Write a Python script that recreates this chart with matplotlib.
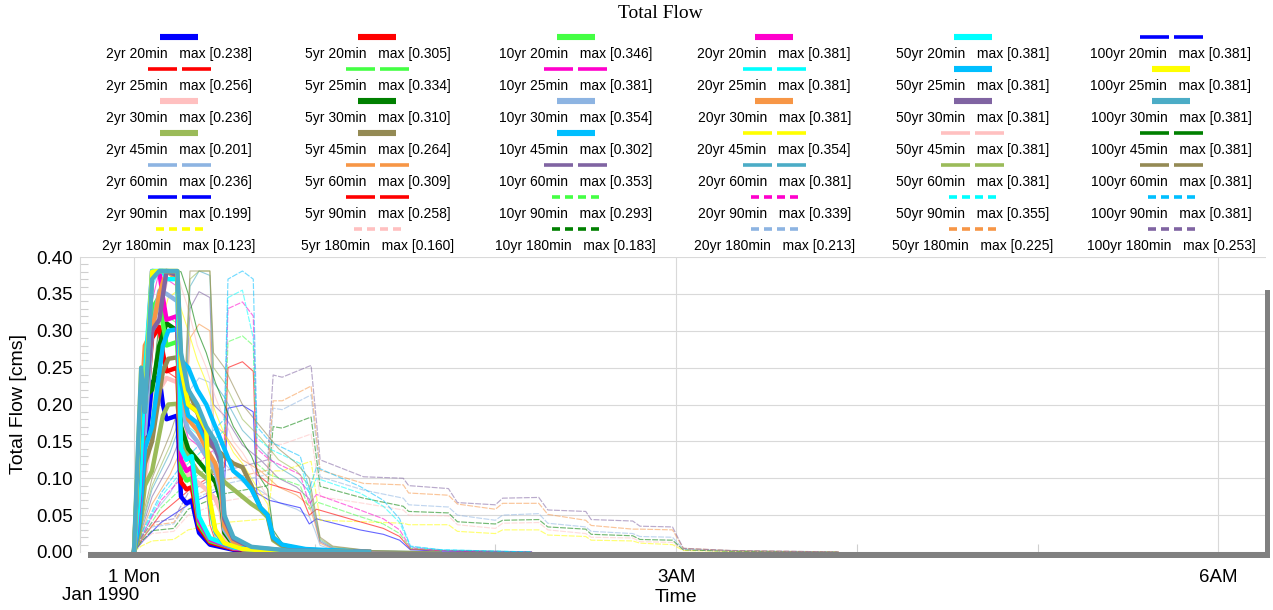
import matplotlib.pyplot as plt
from matplotlib.ticker import MultipleLocator, FixedLocator
from matplotlib.patches import Rectangle

plt.rcParams['font.family'] = ['Liberation Sans', 'DejaVu Sans']

W, H = 1273, 610

# time after 1 Jan 1990 00:00, hours (one time base per storm duration)
T20 = [0, 0.03, 0.06, 0.1, 0.14, 0.16, 0.18, 0.24, 0.26, 0.29, 0.32, 0.34, 0.36, 0.42, 0.55, 0.8, 1.2]
T25 = [0, 0.025, 0.04, 0.06, 0.1, 0.14, 0.18, 0.24, 0.26, 0.3, 0.35, 0.4, 0.42, 0.45, 0.5, 0.6, 0.8, 1.2]
T30 = [0, 0.025, 0.04, 0.06, 0.1, 0.14, 0.18, 0.24, 0.26, 0.3, 0.35, 0.4, 0.45, 0.48, 0.5, 0.55, 0.65, 0.85, 1.3]
T45 = [0, 0.03, 0.06, 0.1, 0.16, 0.19, 0.24, 0.26, 0.3, 0.35, 0.4, 0.45, 0.5, 0.55, 0.6, 0.65, 0.7, 0.74, 0.77, 0.82, 0.95, 1.3]
T60 = [0, 0.04, 0.1, 0.2, 0.28, 0.31, 0.36, 0.42, 0.44, 0.5, 0.6, 0.7, 0.8, 0.9, 0.97, 1.0, 1.03, 1.1, 1.3, 1.7]
T90 = [0, 0.05, 0.15, 0.3, 0.5, 0.52, 0.6, 0.66, 0.68, 0.75, 0.92, 0.97, 1.01, 1.25, 1.38, 1.47, 1.53, 1.7, 2.2]
T180 = [0, 0.04, 0.1, 0.22, 0.3, 0.5, 0.74, 0.77, 0.82, 0.98, 1.03, 1.27, 1.49, 1.52, 1.74, 1.79, 2.0, 2.04,
        2.24, 2.29, 2.5, 2.53, 2.76, 2.8, 2.98, 3.04, 3.3, 3.9]

# total flow [cms]
q2yr_20 = [0, 0.04, 0.13, 0.23, 0.238, 0.2, 0.18, 0.185, 0.075, 0.066, 0.07, 0.047, 0.026, 0.01, 0.003, 0.001, 0]
q5yr_20 = [0, 0.05, 0.17, 0.29, 0.305, 0.27, 0.245, 0.25, 0.095, 0.085, 0.088, 0.06, 0.033, 0.013, 0.004, 0.001, 0]
q10yr_20 = [0, 0.06, 0.19, 0.33, 0.346, 0.31, 0.28, 0.285, 0.11, 0.097, 0.1, 0.07, 0.038, 0.015, 0.005, 0.001, 0]
q20yr_20 = [0, 0.07, 0.22, 0.381, 0.38, 0.345, 0.315, 0.32, 0.125, 0.11, 0.115, 0.08, 0.043, 0.017, 0.005, 0.001, 0]
q50yr_20 = [0, 0.08, 0.24, 0.381, 0.381, 0.381, 0.37, 0.37, 0.14, 0.125, 0.13, 0.09, 0.048, 0.019, 0.006, 0.001, 0]
q100yr_20 = [0, 0.09, 0.26, 0.381, 0.381, 0.381, 0.381, 0.381, 0.15, 0.13, 0.135, 0.095, 0.05, 0.02, 0.006, 0.001, 0]

q2yr_25 = [0, 0.07, 0.12, 0.11, 0.23, 0.256, 0.245, 0.235, 0.125, 0.1, 0.095, 0.085, 0.037, 0.015, 0.006, 0.002, 0.001, 0]
q5yr_25 = [0, 0.09, 0.16, 0.15, 0.3, 0.334, 0.32, 0.31, 0.165, 0.135, 0.125, 0.11, 0.048, 0.02, 0.008, 0.003, 0.001, 0]
q10yr_25 = [0, 0.11, 0.19, 0.17, 0.34, 0.381, 0.37, 0.36, 0.19, 0.155, 0.145, 0.125, 0.055, 0.023, 0.009, 0.003, 0.001, 0]
q20yr_25 = [0, 0.12, 0.21, 0.18, 0.36, 0.381, 0.38, 0.375, 0.21, 0.17, 0.16, 0.14, 0.06, 0.025, 0.01, 0.003, 0.001, 0]
q50yr_25 = [0, 0.13, 0.23, 0.19, 0.375, 0.381, 0.381, 0.38, 0.23, 0.185, 0.175, 0.15, 0.065, 0.028, 0.011, 0.004, 0.001, 0]
q100yr_25 = [0, 0.15, 0.25, 0.2, 0.38, 0.381, 0.381, 0.381, 0.25, 0.2, 0.19, 0.165, 0.07, 0.03, 0.012, 0.004, 0.001, 0]

q2yr_30 = [0, 0.06, 0.1, 0.1, 0.17, 0.22, 0.236, 0.23, 0.13, 0.105, 0.095, 0.085, 0.072, 0.055, 0.02, 0.008, 0.003, 0.001, 0]
q5yr_30 = [0, 0.08, 0.14, 0.21, 0.22, 0.28, 0.31, 0.3, 0.17, 0.14, 0.125, 0.11, 0.095, 0.07, 0.026, 0.01, 0.004, 0.001, 0]
q10yr_30 = [0, 0.1, 0.17, 0.16, 0.3, 0.354, 0.35, 0.34, 0.2, 0.165, 0.15, 0.13, 0.11, 0.08, 0.03, 0.012, 0.004, 0.001, 0]
q20yr_30 = [0, 0.12, 0.2, 0.28, 0.3, 0.35, 0.381, 0.37, 0.22, 0.18, 0.165, 0.14, 0.12, 0.09, 0.035, 0.014, 0.005, 0.001, 0]
q50yr_30 = [0, 0.14, 0.23, 0.2, 0.3, 0.315, 0.381, 0.375, 0.25, 0.2, 0.19, 0.16, 0.14, 0.12, 0.045, 0.018, 0.006, 0.002, 0]
q100yr_30 = [0, 0.16, 0.25, 0.19, 0.37, 0.381, 0.381, 0.381, 0.27, 0.22, 0.2, 0.17, 0.15, 0.13, 0.05, 0.02, 0.007, 0.002, 0]

q2yr_45 = [0, 0.025, 0.09, 0.11, 0.185, 0.2, 0.201, 0.16, 0.13, 0.11, 0.1, 0.115, 0.095, 0.085, 0.075, 0.065, 0.057,
           0.047, 0.016, 0.008, 0.003, 0]
q5yr_45 = [0, 0.035, 0.12, 0.15, 0.245, 0.262, 0.264, 0.23, 0.22, 0.19, 0.15, 0.14, 0.13, 0.12, 0.115, 0.09, 0.06,
           0.05, 0.018, 0.009, 0.003, 0]
q10yr_45 = [0, 0.04, 0.14, 0.17, 0.28, 0.3, 0.302, 0.26, 0.25, 0.22, 0.2, 0.17, 0.14, 0.11, 0.1, 0.085, 0.06,
            0.05, 0.02, 0.01, 0.004, 0]
q20yr_45 = [0, 0.04, 0.15, 0.19, 0.32, 0.345, 0.354, 0.33, 0.3, 0.26, 0.23, 0.19, 0.16, 0.135, 0.12, 0.1, 0.08,
            0.065, 0.024, 0.01, 0.003, 0]
q50yr_45 = [0, 0.045, 0.16, 0.2, 0.34, 0.37, 0.381, 0.36, 0.33, 0.28, 0.25, 0.21, 0.18, 0.15, 0.135, 0.115, 0.09,
            0.075, 0.027, 0.011, 0.004, 0]
q100yr_45 = [0, 0.05, 0.17, 0.22, 0.36, 0.381, 0.381, 0.38, 0.35, 0.3, 0.27, 0.23, 0.2, 0.17, 0.15, 0.13, 0.1,
             0.085, 0.03, 0.012, 0.004, 0]

q2yr_60 = [0, 0.018, 0.05, 0.08, 0.115, 0.22, 0.236, 0.23, 0.135, 0.12, 0.095, 0.083, 0.067, 0.058, 0.048, 0.03,
           0.009, 0.003, 0.001, 0]
q5yr_60 = [0, 0.024, 0.065, 0.105, 0.15, 0.29, 0.309, 0.3, 0.175, 0.16, 0.125, 0.11, 0.088, 0.077, 0.063, 0.04,
           0.012, 0.004, 0.001, 0]
q10yr_60 = [0, 0.028, 0.075, 0.12, 0.17, 0.33, 0.353, 0.345, 0.2, 0.185, 0.145, 0.125, 0.1, 0.088, 0.072, 0.045,
            0.014, 0.005, 0.001, 0]
q20yr_60 = [0, 0.032, 0.085, 0.135, 0.19, 0.36, 0.381, 0.375, 0.23, 0.21, 0.165, 0.14, 0.115, 0.1, 0.082, 0.05,
            0.016, 0.006, 0.002, 0]
q50yr_60 = [0, 0.035, 0.09, 0.145, 0.2, 0.37, 0.381, 0.381, 0.25, 0.23, 0.18, 0.155, 0.125, 0.11, 0.09, 0.055,
            0.018, 0.007, 0.002, 0]
q100yr_60 = [0, 0.04, 0.1, 0.16, 0.22, 0.381, 0.381, 0.381, 0.27, 0.25, 0.2, 0.17, 0.14, 0.12, 0.1, 0.06,
             0.02, 0.008, 0.002, 0]

q2yr_90 = [0, 0.015, 0.04, 0.064, 0.088, 0.195, 0.199, 0.19, 0.08, 0.07, 0.06, 0.038, 0.045, 0.03, 0.024, 0.016,
           0.003, 0.001, 0]
q5yr_90 = [0, 0.019, 0.052, 0.083, 0.115, 0.25, 0.258, 0.245, 0.105, 0.092, 0.08, 0.05, 0.058, 0.041, 0.032, 0.021,
           0.004, 0.002, 0]
q10yr_90 = [0, 0.022, 0.06, 0.095, 0.13, 0.285, 0.293, 0.28, 0.12, 0.105, 0.09, 0.058, 0.068, 0.048, 0.038, 0.025,
            0.005, 0.002, 0]
q20yr_90 = [0, 0.025, 0.07, 0.11, 0.15, 0.33, 0.339, 0.32, 0.14, 0.125, 0.105, 0.065, 0.078, 0.057, 0.045, 0.03,
            0.006, 0.002, 0]
q50yr_90 = [0, 0.028, 0.075, 0.12, 0.165, 0.345, 0.355, 0.29, 0.155, 0.14, 0.12, 0.078, 0.1, 0.08, 0.062, 0.04,
            0.007, 0.003, 0]
q100yr_90 = [0, 0.03, 0.08, 0.13, 0.18, 0.37, 0.381, 0.37, 0.17, 0.15, 0.13, 0.085, 0.115, 0.089, 0.07, 0.045,
             0.008, 0.003, 0]

q2yr_180 = [0, 0.008, 0.015, 0.017, 0.03, 0.04, 0.045, 0.11, 0.11, 0.123, 0.043, 0.041, 0.039, 0.037, 0.037, 0.028,
            0.025, 0.03, 0.03, 0.023, 0.021, 0.016, 0.015, 0.012, 0.01, 0.002, 0.001, 0]
q5yr_180 = [0, 0.013, 0.025, 0.028, 0.05, 0.069, 0.079, 0.146, 0.146, 0.16, 0.075, 0.066, 0.057, 0.05, 0.049, 0.037,
            0.032, 0.039, 0.04, 0.03, 0.025, 0.02, 0.019, 0.014, 0.013, 0.003, 0.001, 0]
q10yr_180 = [0, 0.014, 0.029, 0.032, 0.058, 0.079, 0.09, 0.17, 0.168, 0.183, 0.089, 0.073, 0.062, 0.055, 0.053, 0.041,
             0.038, 0.043, 0.044, 0.034, 0.031, 0.024, 0.022, 0.017, 0.016, 0.003, 0.001, 0]
q20yr_180 = [0, 0.017, 0.034, 0.038, 0.067, 0.092, 0.105, 0.195, 0.193, 0.213, 0.102, 0.084, 0.073, 0.064, 0.061, 0.05,
             0.043, 0.05, 0.052, 0.039, 0.034, 0.028, 0.025, 0.021, 0.02, 0.004, 0.002, 0]
q50yr_180 = [0, 0.018, 0.036, 0.04, 0.071, 0.098, 0.111, 0.205, 0.205, 0.225, 0.111, 0.093, 0.091, 0.08, 0.077, 0.065,
             0.058, 0.066, 0.066, 0.051, 0.043, 0.036, 0.031, 0.031, 0.03, 0.005, 0.002, 0]
q100yr_180 = [0, 0.02, 0.04, 0.045, 0.08, 0.11, 0.125, 0.24, 0.237, 0.253, 0.125, 0.102, 0.1, 0.09, 0.086, 0.067,
              0.064, 0.073, 0.074, 0.057, 0.055, 0.044, 0.042, 0.035, 0.034, 0.005, 0.002, 0]

# legend maxima as printed
MAX_2YR = [0.238, 0.256, 0.236, 0.201, 0.236, 0.199, 0.123]
MAX_5YR = [0.305, 0.334, 0.310, 0.264, 0.309, 0.258, 0.160]
MAX_10YR = [0.346, 0.381, 0.354, 0.302, 0.353, 0.293, 0.183]
MAX_20YR = [0.381, 0.381, 0.381, 0.354, 0.381, 0.339, 0.213]
MAX_50YR = [0.381, 0.381, 0.381, 0.381, 0.381, 0.355, 0.225]
MAX_100YR = [0.381, 0.381, 0.381, 0.381, 0.381, 0.381, 0.253]

PERIODS = ["2yr", "5yr", "10yr", "20yr", "50yr", "100yr"]
DURATIONS = ["20min", "25min", "30min", "45min", "60min", "90min", "180min"]
TIMES = [T20, T25, T30, T45, T60, T90, T180]

COLORS = [
    ["#0000FF", "#FF0000", "#FFC0C0", "#9BBB59", "#8DB4E2", "#0000FF", "#FFFF00"],
    ["#FF0000", "#44FF44", "#008000", "#948A54", "#F79646", "#FF0000", "#FFC0C0"],
    ["#44FF44", "#FF00CC", "#8DB4E2", "#00BFFF", "#8064A2", "#44FF44", "#008000"],
    ["#FF00CC", "#00FFFF", "#F79646", "#FFFF00", "#4BACC6", "#FF00CC", "#8DB4E2"],
    ["#00FFFF", "#00BFFF", "#8064A2", "#FFC0C0", "#9BBB59", "#00FFFF", "#F79646"],
    ["#0000FF", "#FFFF00", "#4BACC6", "#008000", "#948A54", "#00BFFF", "#8064A2"],
]
STYLES = [
    ["solid", "dash", "solid", "solid", "dash", "dash", "dot"],
    ["solid", "dash", "solid", "solid", "dash", "dash", "dot"],
    ["solid", "dash", "solid", "solid", "dash", "dot", "dot"],
    ["solid", "dash", "solid", "dash", "dash", "dot", "dot"],
    ["solid", "solid", "solid", "dash", "dash", "dot", "dot"],
    ["dash", "solid", "solid", "dash", "dash", "dot", "dot"],
]
FLOWS = [
    [q2yr_20, q2yr_25, q2yr_30, q2yr_45, q2yr_60, q2yr_90, q2yr_180],
    [q5yr_20, q5yr_25, q5yr_30, q5yr_45, q5yr_60, q5yr_90, q5yr_180],
    [q10yr_20, q10yr_25, q10yr_30, q10yr_45, q10yr_60, q10yr_90, q10yr_180],
    [q20yr_20, q20yr_25, q20yr_30, q20yr_45, q20yr_60, q20yr_90, q20yr_180],
    [q50yr_20, q50yr_25, q50yr_30, q50yr_45, q50yr_60, q50yr_90, q50yr_180],
    [q100yr_20, q100yr_25, q100yr_30, q100yr_45, q100yr_60, q100yr_90, q100yr_180],
]
MAXES = [MAX_2YR, MAX_5YR, MAX_10YR, MAX_20YR, MAX_50YR, MAX_100YR]


def main():
    fig = plt.figure(figsize=(W / 100, H / 100), dpi=100)

    # plot area in pixels: x 80..1266, y 257..552
    ax = fig.add_axes([80 / W, 1 - 552 / H, (1266 - 80) / W, (552 - 257) / H])
    for c in range(6):
        for r in range(7):
            st = STYLES[c][r]
            if st == "solid":
                ax.plot(TIMES[r], FLOWS[c][r], color=COLORS[c][r], lw=3.2, zorder=3,
                        solid_joinstyle='round')
            elif st == "dash":
                ax.plot(TIMES[r], FLOWS[c][r], color=COLORS[c][r], lw=0.8, alpha=0.6, zorder=2)
            else:
                ax.plot(TIMES[r], FLOWS[c][r], color=COLORS[c][r], lw=0.85, alpha=0.55, zorder=2,
                        linestyle=(0, (5, 1.2)))

    ax.set_xlim((80 - 134) / 180.7, (1266 - 134) / 180.7)
    ax.set_ylim(0, 0.40)
    ax.yaxis.set_major_locator(MultipleLocator(0.05))
    ax.yaxis.set_minor_locator(MultipleLocator(0.01))
    ax.yaxis.set_major_formatter(plt.FuncFormatter(lambda v, p: f"{v:.2f}"))
    ax.xaxis.set_major_locator(FixedLocator([0, 3, 6]))
    ax.xaxis.set_minor_locator(FixedLocator([1, 2, 4, 5]))
    ax.set_xticklabels(["1 Mon", "3AM", "6AM"])
    ax.tick_params(axis='both', which='major', length=0, labelsize=13.5)
    ax.tick_params(axis='y', which='major', pad=5)
    ax.tick_params(axis='x', which='major', pad=12)
    ax.tick_params(axis='both', which='minor', direction='in', length=6, color='#cfcfcf', width=0.8)
    ax.grid(True, which='major', color='#d9d9d9', lw=0.8)
    ax.set_axisbelow(True)
    for s in ['top', 'right', 'bottom']:
        ax.spines[s].set_visible(False)
    ax.spines['left'].set_color('#d9d9d9')

    # overlay in pixel coordinates for legend, borders and labels
    ov = fig.add_axes([0, 0, 1, 1], zorder=5)
    ov.set_xlim(0, W)
    ov.set_ylim(H, 0)
    ov.axis('off')

    ov.add_patch(Rectangle((88, 552), 1270 - 88, 6, color='#808080', lw=0))
    ov.add_patch(Rectangle((1265, 290), 5, 268, color='#808080', lw=0))

    ov.text(660, 13, "Total Flow", ha='center', va='center', fontsize=14, family='Liberation Serif')
    ov.text(19, 404, "Total Flow [cms]", rotation=90, ha='center', va='center', fontsize=14)
    ov.text(101, 596, "Jan 1990", ha='center', va='center', fontsize=13.5)
    ov.text(676, 597, "Time", ha='center', va='center', fontsize=14)

    for c in range(6):
        cx = 179 + 198.4 * c
        for r in range(7):
            y = 37 + 32 * r
            col = COLORS[c][r]
            st = STYLES[c][r]
            if st == "solid":
                segs, lw = [(-19, 19)], 4.4
            elif st == "dash":
                segs, lw = [(-31.5, -2.5), (2.5, 31.5)], 2.6
            else:
                segs, lw = [(-23.5, -15.5), (-10.5, -2.5), (2.5, 10.5), (15.5, 23.5)], 2.6
            for a, b in segs:
                ov.plot([cx + a, cx + b], [y, y], color=col, lw=lw, solid_capstyle='butt')
            ov.text(cx, y + 17, f"{PERIODS[c]} {DURATIONS[r]}   max [{MAXES[c][r]:.3f}]",
                    ha='center', va='center', fontsize=10)

    fig.savefig("out.png", dpi=100)


if __name__ == "__main__":
    main()
